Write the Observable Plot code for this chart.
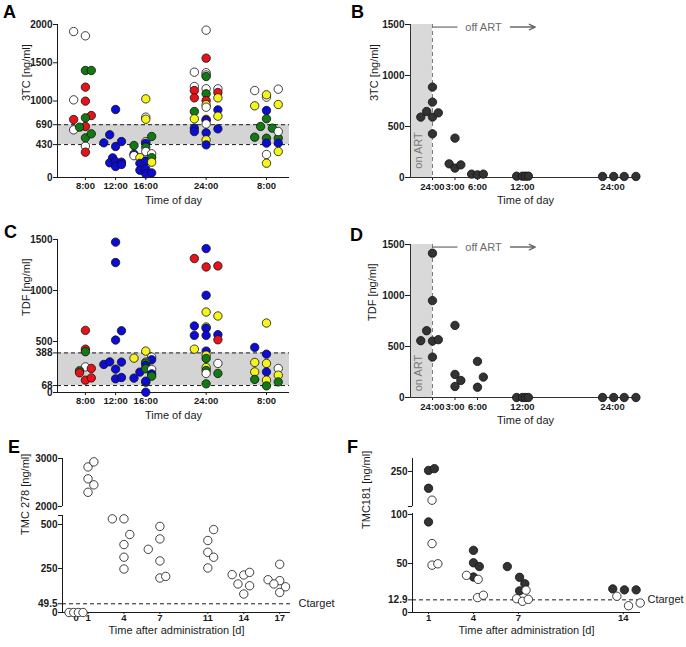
<!DOCTYPE html>
<html><head><meta charset="utf-8">
<script src="https://cdn.jsdelivr.net/npm/d3@7"></script>
<script src="https://cdn.jsdelivr.net/npm/@observablehq/plot@0.6"></script>
<style>
body{margin:0;background:#fff;}
#fig{position:relative;width:686px;height:647px;overflow:hidden;background:#fff;}
.panel{position:absolute;}
svg g[aria-label^="x-axis"] text{font-weight:bold;font-size:9.5px;}
svg g[aria-label^="y-axis"] text{font-weight:bold;font-size:10px;}
</style></head>
<body><div id="fig"></div>
<script>
// ---------- data ----------
const groupCodes = ["W", "R", "G", "B", "Y"];
const groupColors = ["#ffffff", "#e8121b", "#127a12", "#0c0cd6", "#f5f51c"];

const timeTicksAC = [8, 12, 16, 24, 32];
const timeLabelsAC = ["8:00", "12:00", "16:00", "24:00", "8:00"];
const washTicks = [0, 3, 6, 12, 24];
const washLabels = ["24:00", "3:00", "6:00", "12:00", "24:00"];

const yTicksA = [0, 430, 690, 1000, 1500, 2000];
const bandA = [430, 690];
const yTicksC = [0, 68, 388, 500, 1000, 1500];
const bandC = [68, 388];
const yTicksBD = [0, 500, 1000, 1500];

// [time (h), slot, group, 3TC ng/ml]
const panelA = [
  [8,-2,"W",1908],[8,0,"W",1852],[8,-2,"W",1015],[8,-2,"W",623],[8,0,"W",410],
  [8,-2,"R",758],[8,0,"R",1181],[8,0,"R",998],[8,0,"R",667],[8,1,"R",810],[8,0,"R",331],
  [8,-1,"G",658],[8,0,"G",780],[8,0,"G",518],[8,1,"G",571],[8,0,"G",1399],[8,1,"G",1399],
  [12,0,"B",889],[12,-2,"B",453],[12,-1,"B",558],[12,0,"B",405],[12,1,"B",470],
  [12,-0.5,"B",257],[12,-1,"B",192],[12,0,"B",205],[12,1,"B",200],[12,0,"B",144],[12,1,"B",170],
  [16,0,"Y",1028],[16,0,"W",789],[16,0,"Y",762],[16,-2,"G",418],[16,-2,"B",305],[16,-2,"W",285],
  [16,-1,"Y",260],[16,-1,"B",185],[16,-1,"B",95],[16,0,"W",470],[16,0,"B",449],[16,0,"G",396],
  [16,0,"W",340],[16,0,"B",215],[16,0,"B",110],[16,0,"B",48],[16,1,"G",536],[16,1,"W",310],
  [16,1,"G",260],[16,1,"Y",200],[16,1,"B",60],
  [24,0,"W",1926],[24,-2,"W",1377],[24,0,"W",1370],[24,0,"W",1340],[24,0,"G",1320],[24,0,"R",1560],
  [24,-2,"W",1189],[24,-2,"R",1137],[24,-2,"R",1041],[24,0,"W",1160],[24,0,"G",1094],[24,2,"W",1159],
  [24,2,"R",1111],[24,2,"Y",1041],[24,0,"R",1006],[24,0,"Y",952],[24,0,"W",919],[24,-2,"G",863],
  [24,2,"B",884],[24,2,"Y",802],[24,-2,"Y",767],[24,0,"R",760],[24,0,"B",745],[24,0,"W",700],
  [24,-2,"B",645],[24,-2,"B",600],[24,0,"B",584],[24,2,"B",636],[24,0,"Y",492],[24,0,"B",427],
  [32,-2,"W",1137],[32,0,"W",1050],[32,2,"W",1155],[32,0,"Y",1081],[32,-2,"Y",937],[32,2,"Y",954],
  [32,0,"B",876],[32,0,"G",767],[32,-1,"G",667],[32,1,"G",645],[32,-2,"G",527],[32,0,"G",514],
  [32,2,"G",514],[32,2,"W",601],[32,0,"B",449],[32,2,"B",449],[32,0,"W",301],[32,2,"Y",340],[32,0,"Y",187]
];

// [time (h), slot, group, TDF ng/ml]
const panelC = [
  [8,0,"R",609],[8,0,"R",425],[8,0,"G",400],[8,0,"W",251],[8,-1,"G",213],[8,-1,"R",193],
  [8,1,"R",236],[8,0,"R",121],[8,1,"R",143],
  [12,0,"B",1474],[12,0,"B",1274],[12,0,"B",514],[12,1,"B",605],[12,-2,"B",275],[12,-1,"B",300],
  [12,0,"B",229],[12,1,"B",298],[12,0,"B",134],[12,1,"B",147],
  [16,-2,"Y",337],[16,0,"Y",406],[16,1,"W",347],[16,1,"B",321],[16,0,"W",298],[16,0,"G",290],
  [16,-1,"B",200],[16,0,"B",265],[16,0,"G",233],[16,-2,"B",141],[16,1,"W",226],[16,1,"B",183],
  [16,1,"G",160],[16,0,"G",101],[16,0,"B",111],[16,0,"B",3],
  [24,0,"B",1411],[24,-2,"R",1313],[24,0,"R",1231],[24,2,"R",1241],[24,0,"B",953],[24,0,"Y",789],
  [24,2,"Y",750],[24,-2,"B",652],[24,0,"Y",642],[24,0,"B",630],[24,-2,"B",560],[24,0,"B",560],
  [24,2,"B",567],[24,2,"R",517],[24,-2,"Y",425],[24,0,"B",406],[24,0,"Y",366],[24,0,"G",334],
  [24,2,"W",285],[24,0,"Y",245],[24,0,"G",216],[24,0,"W",187],[24,2,"G",187],[24,0,"G",85],
  [32,0,"Y",681],[32,-2,"B",442],[32,0,"B",376],[32,-2,"Y",295],[32,0,"Y",285],[32,2,"W",236],
  [32,0,"B",202],[32,-2,"Y",202],[32,2,"Y",170],[32,-2,"G",128],[32,0,"Y",121],[32,2,"G",104],[32,0,"G",65]
];

// [hours after last dose, slot, ng/ml]
const panelB = [
  [0,-2,592],[0,-1,647],[0,0,886],[0,0,739],[0,0,592],[0,0,428],[0,1,634],
  [3,-1,134],[3,0,386],[3,0,92],[3,1,124],
  [6,-1,33],[6,0,26],[6,1,33],
  [12,-1,13],[12,0,13],[12,0.5,13],[12,1,13],
  [24,-1.7,10],[24,0.2,10],[24,2,10],[24,4,10]
];
const panelD = [
  [0,-2,557],[0,-1,655],[0,0,1415],[0,0,950],[0,0,553],[0,0,396],[0,1,567],
  [3,0,707],[3,0,226],[3,0,108],[3,1,167],
  [6,0,354],[6,0,101],[6,1,200],
  [12,-1,0],[12,0,0],[12,0.5,0],[12,1,0],
  [24,-1.7,0],[24,0.2,0],[24,2,0],[24,4,0]
];

// [day, slot, TMC278 ng/ml]
const dayTicksE = [0, 1, 4, 7, 11, 14, 17];
const lowerTicksE = [0, 49.5, 250, 500];
const upperTicksE = [2000, 3000];
const lowerE = [0, 551];      // lower axis segment
const upperE = [2000, 3000];  // upper axis segment
const ctargetE = 49.5;
const panelE = [
  [0,-1.2,0],[0,-0.4,0],[0,0.4,0],[0,1.2,0],
  [1,0,2824],[1,1,2930],[1,0,2577],[1,1,2451],[1,0,2296],
  [4,-2,532],[4,0,532],[4,1,443],[4,0,386],[4,0,314],[4,0,247],
  [7,-2,359],[7,0,489],[7,0,418],[7,0,293],[7,0,196],[7,1,205],
  [11,0,409],[11,1,471],[11,0,342],[11,1,314],[11,0,253],
  [14,-2,215],[14,0,213],[14,1,228],[14,-1,162],[14,1,152],[14,0,105],
  [17,-2,186],[17,0,274],[17,0,181],[17,-1,162],[17,1,146],[17,0,114]
];

// [day, slot, group (D = filled, O = open), TMC181 ng/ml]
const dayTicksF = [1, 4, 7, 14];
const lowerTicksF = [0, 12.9, 50, 100];
const upperTicksF = [150, 250];
const lowerF = [0, 101];
const upperF = [150, 287];
const ctargetF = 12.9;
const panelF = [
  [1,0,"D",253],[1,1,"D",258],[1,0,"D",202],[1,0,"D",92.4],
  [1,0.6,"O",168],[1,0.6,"O",70.3],[1,0.6,"O",48.3],[1,1.6,"O",49.7],
  [4,0,"D",63.4],[4,0,"D",50.7],[4,1,"D",46.9],[4,0,"D",36.2],
  [4,-1.2,"O",37.9],[4,0.8,"O",33.8],[4,0.7,"O",15.2],[4,1.7,"O",17.6],
  [7,-1.9,"D",46.9],[7,0.2,"D",35.9],[7,1.1,"D",29.3],[7,0.2,"D",22.1],
  [7,1.3,"O",22.8],[7,-0.3,"O",14.1],[7,0.7,"O",11.4],[7,1.7,"O",13.4],
  [14,-1.8,"D",24.1],[14,0.2,"D",23.1],[14,2.2,"D",23.1],
  [14,-1.1,"O",16.6],[14,0.9,"O",6.9],[14,2.9,"O",9.7]
];

// annotation anchors (data units)
const offArt = {lineStart: 0, lineEnd: 3.4, textAt: 6.8, arrowStart: 10.4, arrowEnd: 13.7, level: 1475};

// ---------- layout ----------
const SF = "'Liberation Sans', Arial, Helvetica, sans-serif";
const fig = document.getElementById("fig");
const AX = "#1a1a1a";
const baseStyle = {fontFamily: SF, fontSize: "10px", background: "transparent", overflow: "visible", color: AX};
const fmt = d => String(d);
const DOT = {r: 4.2, stroke: "#111", strokeWidth: 0.8};

function place(left, top, node) {
  const d = document.createElement("div");
  d.className = "panel";
  d.style.left = left + "px";
  d.style.top = top + "px";
  d.appendChild(node);
  fig.appendChild(d);
}

const LANE_T = 0.78;
const xDomAC = [4.3, 35.05];
function timeCourse(data, yTicks, band, yLabel) {
  return Plot.plot({
    width: 300, height: 210, marginLeft: 57, marginRight: 11, marginTop: 24, marginBottom: 33,
    style: baseStyle,
    x: {domain: xDomAC, ticks: timeTicksAC, tickFormat: d => timeLabelsAC[timeTicksAC.indexOf(d)], tickSize: 3, tickPadding: 2, label: null},
    y: {domain: [0, yTicks[yTicks.length - 1]], ticks: yTicks, tickFormat: fmt, tickSize: 4, tickPadding: 1, label: null},
    color: {type: "ordinal", domain: groupCodes, range: groupColors},
    marks: [
      Plot.rect([band], {x1: () => xDomAC[0], x2: () => xDomAC[1], y1: d => d[0], y2: d => d[1], fill: "#d4d4d4"}),
      Plot.ruleY(band, {stroke: AX, strokeDasharray: "4,3"}),
      Plot.ruleY([0], {stroke: AX}),
      Plot.ruleX([xDomAC[0]], {stroke: AX}),
      Plot.dot(data, {x: d => d[0] + d[1] * LANE_T, y: d => d[3], fill: d => d[2], ...DOT}),
      Plot.text([yLabel], {text: d => d, frameAnchor: "left", dx: -31, rotate: -90, fontSize: 11, fill: AX}),
      Plot.text(["Time of day"], {text: d => d, frameAnchor: "bottom", dy: 26, fontSize: 11, fill: AX})
    ]
  });
}

const xDomBD = [-2.93, 27.73];
function washout(data, yLabel, onArtY, labelDx) {
  return Plot.plot({
    width: 326, height: 210, marginLeft: 50, marginRight: 46, marginTop: 24, marginBottom: 33,
    style: baseStyle,
    x: {domain: xDomBD, ticks: washTicks, tickFormat: d => washLabels[washTicks.indexOf(d)], tickSize: 3, tickPadding: 3, label: null},
    y: {domain: [0, 1500], ticks: yTicksBD, tickFormat: fmt, tickSize: 5, tickPadding: 1, label: null},
    marks: [
      Plot.rect([0], {x1: () => xDomBD[0], x2: () => 0, y1: () => 0, y2: () => 1500, fill: "#d9d9d9"}),
      Plot.ruleX([0], {stroke: "#7a7a7a", strokeDasharray: "4,3"}),
      Plot.ruleY([0], {stroke: "#333"}),
      Plot.ruleX([xDomBD[0]], {stroke: "#333"}),
      Plot.text(["on ART"], {text: d => d, x: () => -1.85, y: () => onArtY, rotate: -90, fontSize: 11, fill: "#7a7a7a"}),
      Plot.ruleY([offArt], {y: d => d.level, x1: d => d.lineStart, x2: d => d.lineEnd, stroke: "#6a6a6a", strokeWidth: 1.2}),
      Plot.text([offArt], {text: () => "off ART", x: d => d.textAt, y: d => d.level, fontSize: 11, fill: "#6a6a6a"}),
      Plot.arrow([offArt], {x1: d => d.arrowStart, x2: d => d.arrowEnd, y1: d => d.level, y2: d => d.level, stroke: "#6a6a6a", strokeWidth: 1.4, headLength: 7, headAngle: 50}),
      Plot.dot(data, {x: d => d[0] + d[1] * LANE_T, y: d => d[2], fill: "#333", ...DOT}),
      Plot.text([yLabel], {text: d => d, frameAnchor: "left", dx: labelDx, rotate: -90, fontSize: 11, fill: AX}),
      Plot.text(["Time of day"], {text: d => d, frameAnchor: "bottom", dy: 26, fontSize: 11, fill: AX})
    ]
  });
}

// Panel E: broken y-axis drawn as two stacked plots sharing x
const LANE_E = 0.486;
const xDomE = [-1.13, 17.9];
const plotEUpper = Plot.plot({
  width: 300, height: 81, marginLeft: 62, marginRight: 10, marginTop: 33, marginBottom: 0,
  style: baseStyle,
  x: {domain: xDomE, axis: null},
  y: {domain: upperE, ticks: upperTicksE, tickFormat: fmt, tickSize: 4, tickPadding: 1, label: null},
  marks: [
    Plot.ruleX([xDomE[0]], {stroke: AX}),
    Plot.dot(panelE, {filter: d => d[2] >= upperE[0], x: d => d[0] + d[1] * LANE_E, y: d => d[2], fill: "#fff", ...DOT})
  ]
});
const plotELower = Plot.plot({
  width: 300, height: 141, marginLeft: 62, marginRight: 10, marginTop: 9, marginBottom: 35,
  style: baseStyle,
  x: {domain: xDomE, ticks: dayTicksE, tickFormat: fmt, tickSize: 2, tickPadding: 0, label: null},
  y: {domain: lowerE, ticks: [...lowerTicksE, lowerE[1]], tickFormat: d => d === lowerE[1] ? "" : String(d), tickSize: 4, tickPadding: 1, label: null},
  marks: [
    Plot.ruleY([ctargetE], {stroke: AX, strokeDasharray: "4,3"}),
    Plot.ruleY([0], {stroke: AX}),
    Plot.ruleX([xDomE[0]], {stroke: AX}),
    Plot.dot(panelE, {filter: d => d[2] <= lowerE[1], x: d => d[0] + d[1] * LANE_E, y: d => d[2], fill: "#fff", ...DOT}),
    Plot.text(["Ctarget"], {text: d => d, frameAnchor: "right", y: () => ctargetE, dx: 8, textAnchor: "start", fontSize: 11, fill: AX}),
    Plot.text(["TMC 278 [ng/ml]"], {text: d => d, frameAnchor: "left", dx: -37, dy: -29, rotate: -90, fontSize: 11, fill: AX}),
    Plot.text(["Time after administration [d]"], {text: d => d, frameAnchor: "bottom", dy: 21, fontSize: 11, fill: AX})
  ]
});

// Panel F: broken y-axis drawn as two stacked plots sharing x
const LANE_F = 0.39;
const xDomF = [-0.07, 15.15];
const colorF = {type: "ordinal", domain: ["D", "O"], range: ["#333333", "#ffffff"]};
const plotFUpper = Plot.plot({
  width: 326, height: 81, marginLeft: 52, marginRight: 46, marginTop: 33, marginBottom: 0,
  style: baseStyle,
  x: {domain: xDomF, axis: null},
  y: {domain: upperF, ticks: upperTicksF, tickFormat: d => d === upperF[0] ? "" : String(d), tickSize: 4, tickPadding: 1, label: null},
  color: colorF,
  marks: [
    Plot.ruleX([xDomF[0]], {stroke: AX}),
    Plot.dot(panelF, {filter: d => d[3] >= upperF[0], x: d => d[0] + d[1] * LANE_F, y: d => d[3], fill: d => d[2], ...DOT})
  ]
});
const plotFLower = Plot.plot({
  width: 326, height: 147, marginLeft: 52, marginRight: 46, marginTop: 13, marginBottom: 35,
  style: baseStyle,
  x: {domain: xDomF, ticks: dayTicksF, tickFormat: fmt, tickSize: 2, tickPadding: 0, label: null},
  y: {domain: lowerF, ticks: lowerTicksF, tickFormat: fmt, tickSize: 4, tickPadding: 1, label: null},
  color: colorF,
  marks: [
    Plot.ruleY([ctargetF], {stroke: AX, strokeDasharray: "4,3"}),
    Plot.ruleY([0], {stroke: AX}),
    Plot.ruleX([xDomF[0]], {stroke: AX}),
    Plot.dot(panelF, {filter: d => d[3] <= lowerF[1], x: d => d[0] + d[1] * LANE_F, y: d => d[3], fill: d => d[2], ...DOT}),
    Plot.text(["Ctarget"], {text: d => d, frameAnchor: "right", y: () => ctargetF, dx: 7, textAnchor: "start", fontSize: 11, fill: AX}),
    Plot.text(["TMC181 [ng/ml]"], {text: d => d, frameAnchor: "left", dx: -46, dy: -34, rotate: -90, fontSize: 11, fill: AX}),
    Plot.text(["Time after administration [d]"], {text: d => d, frameAnchor: "bottom", dy: 21, fontSize: 11, fill: AX})
  ]
});

place(0, 0, timeCourse(panelA, yTicksA, bandA, "3TC [ng/ml]"));
place(360, 0, washout(panelB, "3TC [ng/ml]", 265, -36));
place(0, 215, timeCourse(panelC, yTicksC, bandC, "TDF [ng/ml]"));
place(360, 220, washout(panelD, "TDF [ng/ml]", 240, -38));
place(0, 425, plotEUpper);
place(0, 506, plotELower);
place(360, 425, plotFUpper);
place(360, 500, plotFLower);

// panel letters
const letters = [["A", 3, 18], ["B", 351, 18], ["C", 4, 238], ["D", 350, 241], ["E", 8, 453], ["F", 347, 453]];
const ns = "http://www.w3.org/2000/svg";
const ov = document.createElementNS(ns, "svg");
ov.setAttribute("width", 686); ov.setAttribute("height", 647);
ov.style.position = "absolute"; ov.style.left = "0"; ov.style.top = "0"; ov.style.pointerEvents = "none";
for (const [t, x, y] of letters) {
  const e = document.createElementNS(ns, "text");
  e.setAttribute("x", x); e.setAttribute("y", y);
  e.setAttribute("font-family", SF); e.setAttribute("font-weight", "bold"); e.setAttribute("font-size", "18");
  e.textContent = t;
  ov.appendChild(e);
}
fig.appendChild(ov);
</script>
</body></html>
